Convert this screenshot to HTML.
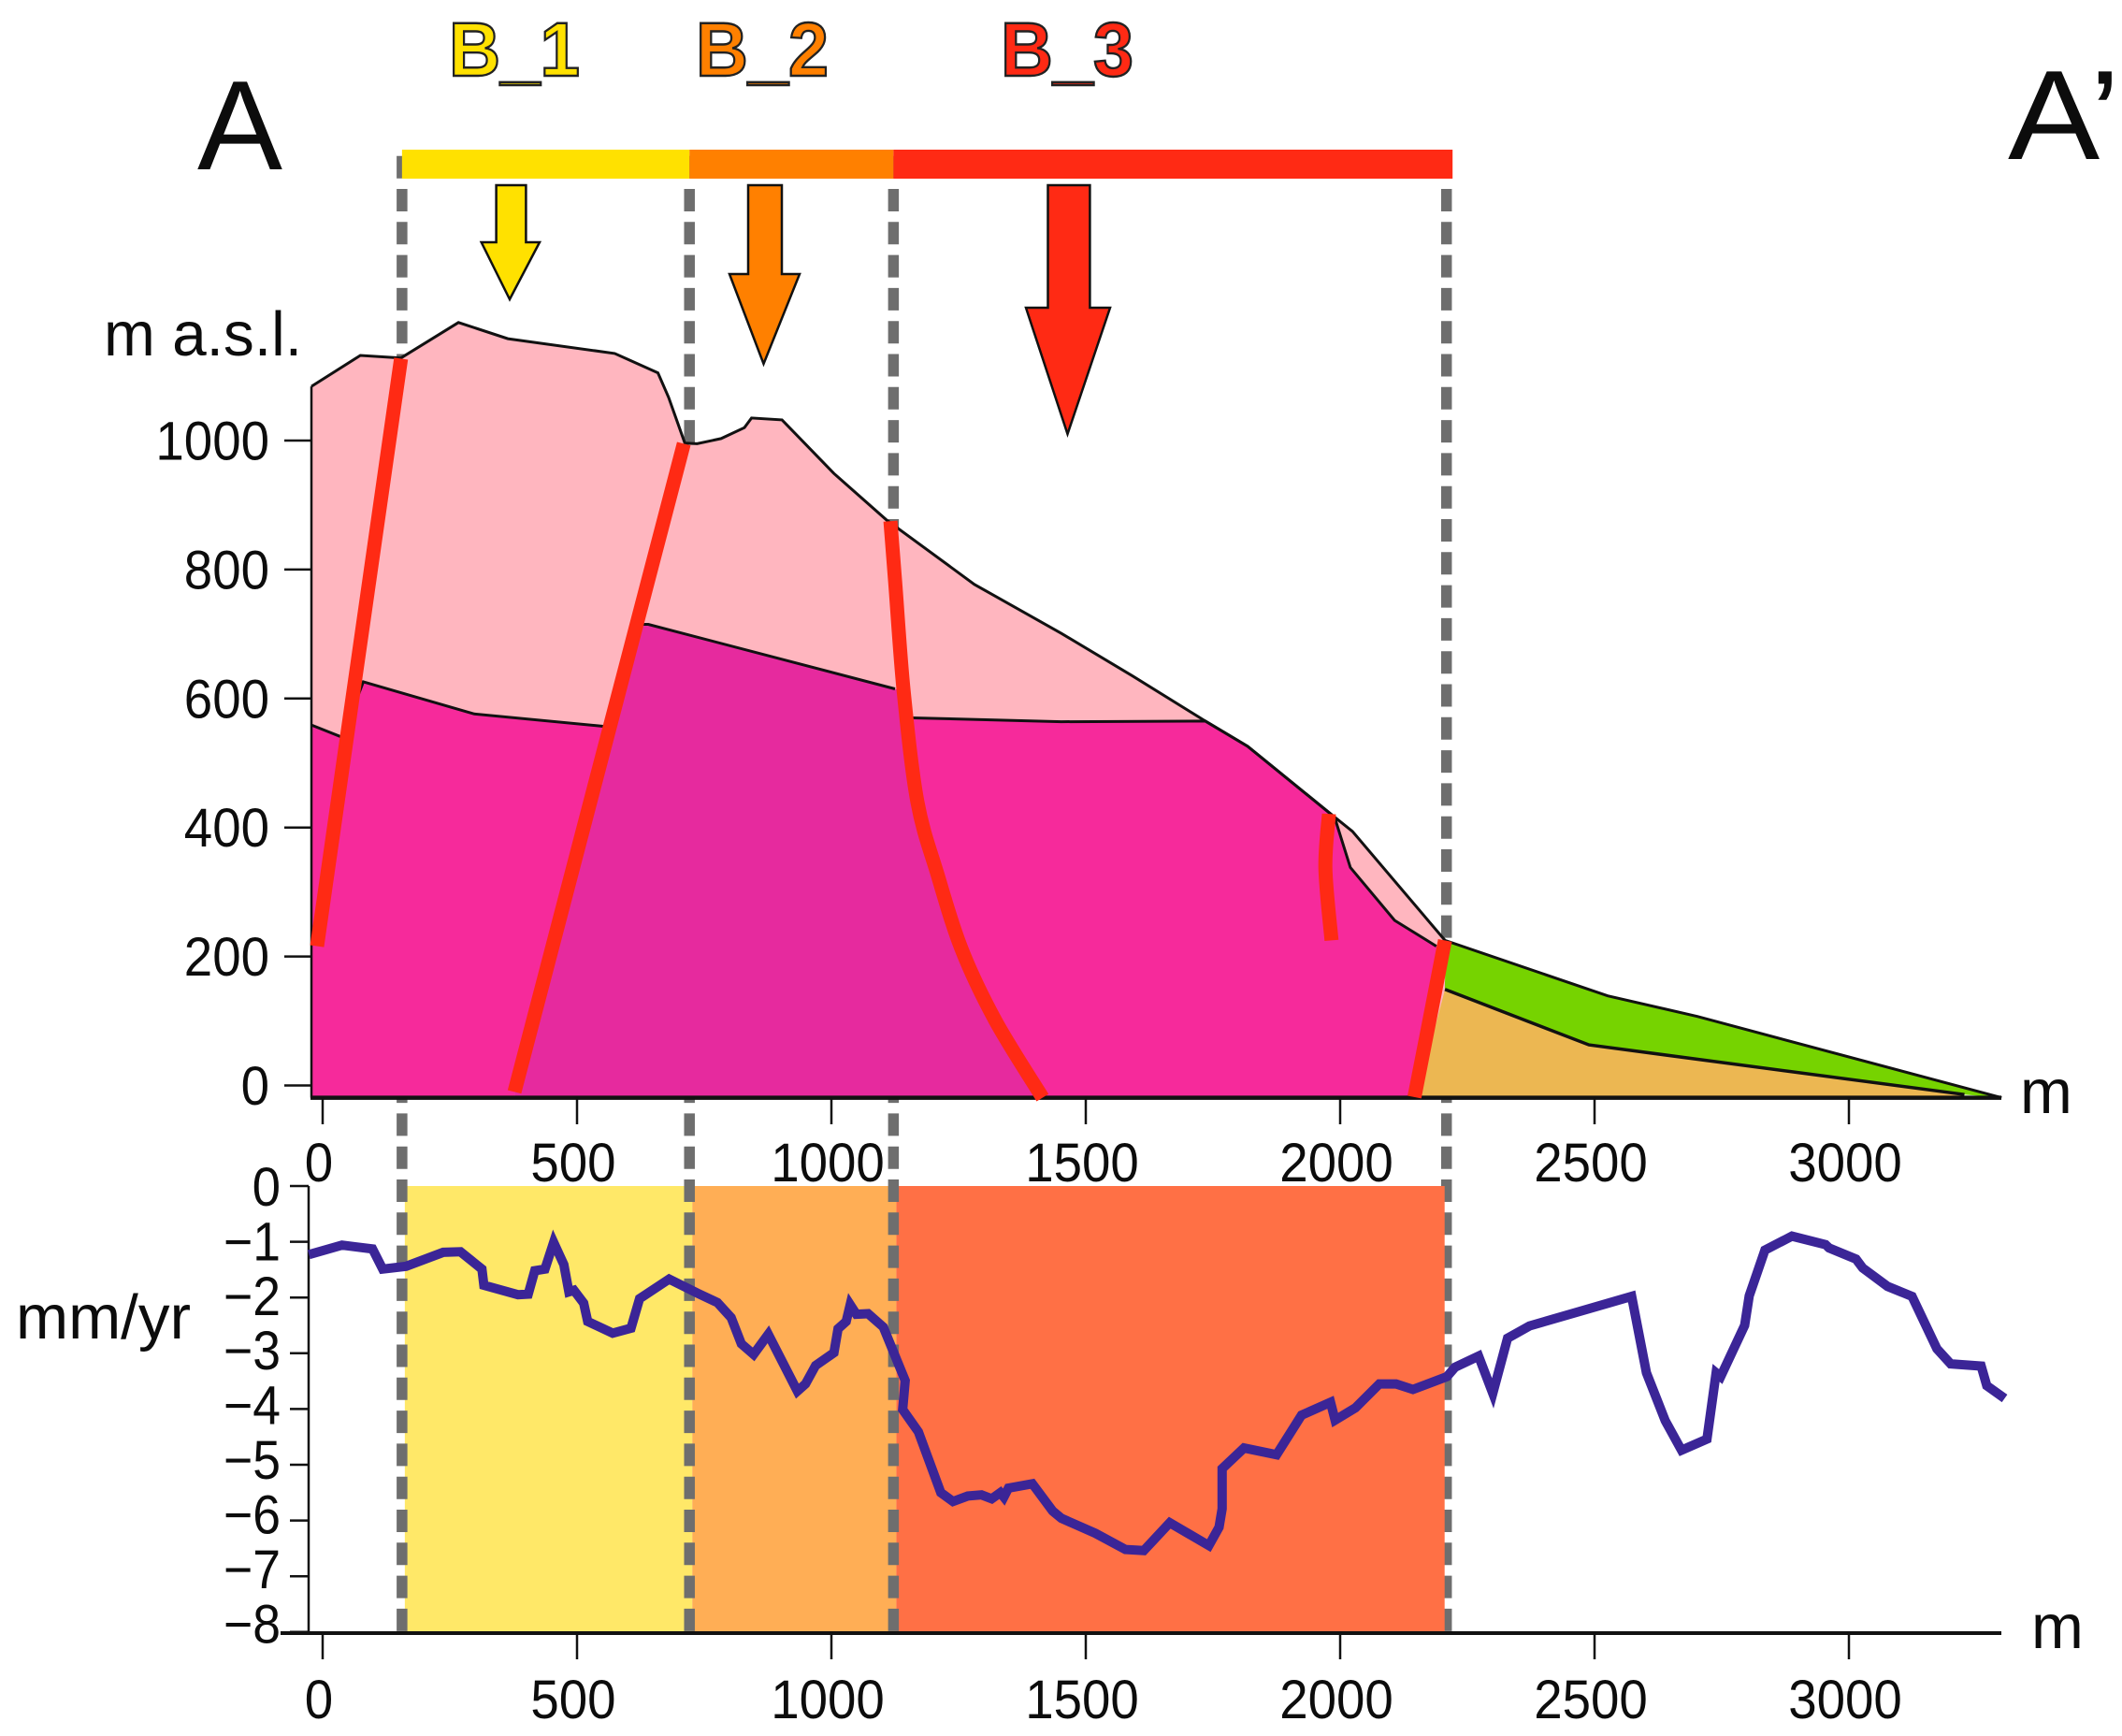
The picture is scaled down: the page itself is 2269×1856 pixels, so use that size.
<!DOCTYPE html>
<html lang="en">
<head>
<meta charset="utf-8">
<title>Cross section A–A' with vertical velocity</title>
<style>
html,body{margin:0;padding:0;background:#fff;}
svg{display:block;font-family:"Liberation Sans",Arial,sans-serif;}
text{fill:#0c0c0c;}
</style>
</head>
<body>
<svg id="chart" xmlns="http://www.w3.org/2000/svg" width="2269" height="1856" viewBox="0 0 2269 1856">
  <rect width="2269" height="1856" fill="#ffffff"/>
  <g id="lower"></g>
  <g id="upper"></g>
  <g id="bar"></g>

  <polygon points="530.6,198 562.4,198 562.4,259 577,259 545,320 514.7,259 530.6,259" fill="#ffe100" stroke="#111" stroke-width="2.5"/>
  <polygon points="800,198 836,198 836,293 855,293 816.5,389 780,293 800,293" fill="#ff8000" stroke="#111" stroke-width="2.5"/>
  <polygon points="1120.5,198 1165.4,198 1165.4,329 1187,329 1141.5,464 1097,329 1120.5,329" fill="#ff2a14" stroke="#111" stroke-width="2.5"/>

  <text x="480" y="81" font-size="82" font-weight="bold" textLength="140" lengthAdjust="spacingAndGlyphs" style="fill:#ffe100" stroke="#222" stroke-width="2.4">B_1</text>
  <text x="744" y="81" font-size="82" font-weight="bold" textLength="142" lengthAdjust="spacingAndGlyphs" style="fill:#ff8000" stroke="#222" stroke-width="2.4">B_2</text>
  <text x="1070" y="81" font-size="82" font-weight="bold" textLength="142" lengthAdjust="spacingAndGlyphs" style="fill:#ff2a14" stroke="#222" stroke-width="2.4">B_3</text>

  <text x="211" y="181" font-size="136" textLength="91" lengthAdjust="spacingAndGlyphs">A</text>
  <text x="2147" y="170" font-size="136" textLength="120" lengthAdjust="spacingAndGlyphs">A’</text>
  <text x="111" y="380" font-size="67" textLength="212" lengthAdjust="spacingAndGlyphs">m a.s.l.</text>
  <text x="17" y="1431" font-size="67" textLength="187" lengthAdjust="spacingAndGlyphs">mm/yr</text>
  <text x="2160" y="1190" font-size="67">m</text>
  <text x="2172" y="1762" font-size="67">m</text>
</svg>
<script>
// ---- chart data ----
const distanceTicks = [0, 500, 1000, 1500, 2000, 2500, 3000];
const elevationTicks = [0, 200, 400, 600, 800, 1000];
const velocityTicks = [0, -1, -2, -3, -4, -5, -6, -7, -8];
const zoneBounds = [156, 721, 1122, 2209];
const zoneNames = ['b1', 'b2', 'b3'];

const terrainDist = [-22,74,154,267,364,574,659,680,712,736,783,829,843,903,1005,1108,1281,1452,1592,1735,1818,1983,2024,2206];
const terrainElev = [1084,1132,1128,1183,1158,1135,1105,1067,996,995,1003,1020,1035,1032,949,877,777,701,635,565,526,420,394,225];

const block1Dist = [-22,38,80,298,563];
const block1Elev = [559,540,626,576,556];
const block2Dist = [617,640,1125];
const block2Elev = [715,715,615];
const block3Dist = [1149,1160,1452,1735,1818,1983,1991,2020,2107,2189];
const block3Elev = [570,570,564,565,526,420,411,338,256,216];

const greenTopDist = [2206,2526,2702,3300];
const greenTopElev = [225,139,107,-19];
const greenBaseDist = [2206,2489,3227];
const greenBaseElev = [149,63,-14];

const fault1Dist = [154,-11];
const fault1Elev = [1127,216];
const fault2Dist = [710,377];
const fault2Elev = [995,-10];
const fault3Dist = [1116,1125,1142,1169,1209,1256,1322,1415];
const fault3Elev = [875,784,612,440,326,211,101,-19];
const fault4Dist = [1978,1971,1983];
const fault4Elev = [421,337,225];
const fault5Dist = [2206,2180,2146];
const fault5Elev = [225,119,-18];

const velocityDist = [-27,38,98,118,164,237,271,313,317,384,404,417,437,454,474,484,494,513,521,570,606,623,681,736,776,803,823,847,876,933,949,969,1005,1013,1029,1037,1049,1072,1102,1145,1140,1171,1215,1239,1268,1295,1315,1332,1339,1348,1395,1435,1452,1519,1578,1614,1665,1742,1762,1768,1768,1811,1875,1924,1981,1990,2030,2077,2110,2143,2210,2226,2272,2300,2329,2372,2573,2602,2639,2671,2721,2739,2748,2795,2804,2835,2888,2954,2961,3014,3027,3076,3124,3173,3200,3260,3271,3306];
const velocityRate = [-1.23,-1.06,-1.13,-1.49,-1.44,-1.19,-1.18,-1.49,-1.78,-1.95,-1.94,-1.52,-1.49,-1.01,-1.41,-1.90,-1.87,-2.10,-2.43,-2.64,-2.55,-2.02,-1.67,-1.92,-2.09,-2.36,-2.83,-3.02,-2.66,-3.68,-3.55,-3.22,-2.99,-2.56,-2.43,-2.13,-2.30,-2.29,-2.53,-3.49,-4.01,-4.41,-5.50,-5.66,-5.56,-5.54,-5.61,-5.50,-5.58,-5.42,-5.34,-5.83,-5.96,-6.23,-6.52,-6.54,-6.04,-6.45,-6.12,-5.79,-5.07,-4.70,-4.82,-4.11,-3.88,-4.20,-3.98,-3.55,-3.55,-3.65,-3.42,-3.25,-3.05,-3.72,-2.73,-2.51,-1.98,-3.35,-4.21,-4.74,-4.54,-3.35,-3.42,-2.50,-1.97,-1.15,-0.90,-1.05,-1.11,-1.31,-1.47,-1.80,-1.98,-2.92,-3.19,-3.23,-3.58,-3.81];

// ---- axis functions ----
const BASE_ELEV = -19;
const DIGIT_WIDTH = 30.4;
const xScale = d => 345 + 0.544 * d;
const yElev = e => 1160.5 - 0.6895 * e;
const yRate = r => 1268 - 59.6 * r;

const NS = 'http://www.w3.org/2000/svg';
const upper = document.getElementById('upper');
const lower = document.getElementById('lower');
const bar = document.getElementById('bar');

function make(parent, tag, props) {
  const el = document.createElementNS(NS, tag);
  for (const k in props) el.setAttribute(k, props[k]);
  parent.appendChild(el);
  return el;
}
function pairs(ds, es, yFn) {
  return ds.map((d, i) => xScale(d).toFixed(1) + ',' + yFn(es[i]).toFixed(1));
}
const rev = a => a.slice().reverse();
function labelProps(x, y, anchor, width) {
  return {x: x, y: y, 'text-anchor': anchor, 'font-size': 58, textLength: width, lengthAdjust: 'spacingAndGlyphs'};
}

// ---- lower panel: dashed line, zones, series ----
const DASH_TOP = 166.7, LOWER_BOTTOM = 1745;
function drawDash(d) {
  const el = make(lower, 'line', {x1: xScale(d), x2: xScale(d), y1: DASH_TOP, y2: LOWER_BOTTOM,
    stroke: '#6e6e6e', 'stroke-width': 11.5, 'stroke-dasharray': '24 11.3'});
  
  
}
drawDash(zoneBounds[3]);

const fillColors = ['#ffe868', '#ffae55', '#ff7045'];
zoneNames.forEach((z, i) => {
  const x0 = xScale(zoneBounds[i]) + 3;
  const x1 = xScale(zoneBounds[i + 1]) + (i === 2 ? -2 : 3);
  const el = make(lower, 'rect', {x: x0, y: 1268, width: x1 - x0, height: LOWER_BOTTOM - 1268, fill: fillColors[i]});
  
  
});
zoneBounds.slice(0, 3).forEach(drawDash);

// lower axes
const lowerYAxis = make(lower, 'line', {x1: 330, x2: 330, y1: yRate(0), y2: LOWER_BOTTOM, stroke: '#111', 'stroke-width': 2.5});


const lowerXAxis = make(lower, 'line', {x1: 300, x2: 2140, y1: LOWER_BOTTOM + 1, y2: LOWER_BOTTOM + 1, stroke: '#111', 'stroke-width': 4});



velocityTicks.forEach(v => {
  const t = make(lower, 'line', {x1: 310, x2: 330, y1: yRate(v), y2: yRate(v), stroke: '#111', 'stroke-width': 2.5});
  
  
  const l = make(lower, 'text', labelProps(300, yRate(v * 0.98) + 21, 'end', v === 0 ? DIGIT_WIDTH : 61));
  l.textContent = v === 0 ? '0' : '\u2212' + Math.abs(v);
  
  
});
distanceTicks.forEach(d => {
  const t = make(lower, 'line', {x1: xScale(d), x2: xScale(d), y1: LOWER_BOTTOM, y2: 1774, stroke: '#111', 'stroke-width': 2.5});
  
  
  const l = make(lower, 'text', labelProps(xScale(d) - 4, 1837, 'middle', String(d).length * DIGIT_WIDTH));
  l.textContent = d;
  
  
});

const series = make(lower, 'polyline', {points: pairs(velocityDist, velocityRate, yRate).join(' '), fill: 'none',
  stroke: '#3b2597', 'stroke-width': 10, 'stroke-linejoin': 'miter', 'stroke-miterlimit': 6});



// ---- upper panel: geology ----
const e = (ds, es) => pairs(ds, es, yElev);
const baseAt = d => xScale(d).toFixed(1) + ',' + yElev(BASE_ELEV).toFixed(1);
const at = (d, v) => xScale(d).toFixed(1) + ',' + yElev(v).toFixed(1);
const lastF2 = fault2Dist.length - 1;

const pink = make(upper, 'polygon', {points: e(terrainDist, terrainElev).concat([baseAt(2206), baseAt(-22)]).join(' '), fill: '#ffb6bf'});



const m1 = make(upper, 'polygon', {points: e(block1Dist, block1Elev).concat([at(fault2Dist[lastF2], fault2Elev[lastF2]), baseAt(fault2Dist[lastF2]), baseAt(-22)]).join(' '), fill: '#f62a9b'});



const m2 = make(upper, 'polygon', {points: e(block2Dist, block2Elev).concat(e(fault3Dist.slice(2), fault3Elev.slice(2)), [baseAt(fault2Dist[lastF2]), at(fault2Dist[lastF2], fault2Elev[lastF2])]).join(' '), fill: '#e62a9e'});



const m3 = make(upper, 'polygon', {points: e(block3Dist, block3Elev).concat(e(fault5Dist, fault5Elev), [baseAt(2146), baseAt(1415)], e(rev(fault3Dist.slice(3)), rev(fault3Elev.slice(3)))).join(' '), fill: '#f62a9b'});



const tan = make(upper, 'polygon', {points: e(greenBaseDist, greenBaseElev).concat([baseAt(3227), baseAt(2150)]).join(' '), fill: '#ecb752'});



const green = make(upper, 'polygon', {points: e(greenTopDist, greenTopElev).concat(e(rev(greenBaseDist), rev(greenBaseElev))).join(' '), fill: '#76d300'});



function outline(ds, es, name, w) {
  const el = make(upper, 'polyline', {points: e(ds, es).join(' '), fill: 'none', stroke: '#111', 'stroke-width': w});
  
  
}
outline(terrainDist.concat(greenTopDist), terrainElev.concat(greenTopElev), 'terrain-profile', 3);
outline(block1Dist, block1Elev, 'block-left-boundary', 3);
outline(block2Dist, block2Elev, 'block-middle-boundary', 3);
outline(block3Dist, block3Elev, 'block-right-boundary', 3);
outline(greenBaseDist, greenBaseElev, 'green-wedge-base', 3.5);

// upper axes
const upperYAxis = make(upper, 'line', {x1: 333, x2: 333, y1: yElev(1084), y2: yElev(BASE_ELEV), stroke: '#111', 'stroke-width': 2.5});


const upperXAxis = make(upper, 'line', {x1: 332, x2: 2140, y1: yElev(BASE_ELEV), y2: yElev(BASE_ELEV), stroke: '#111', 'stroke-width': 4.5});



elevationTicks.forEach(v => {
  const t = make(upper, 'line', {x1: 304, x2: 333, y1: yElev(v), y2: yElev(v), stroke: '#111', 'stroke-width': 2.5});
  
  
  const l = make(upper, 'text', labelProps(288, yElev(v) + 20.5, 'end', String(v).length * DIGIT_WIDTH));
  l.textContent = v;
  
  
});
distanceTicks.forEach(d => {
  const t = make(upper, 'line', {x1: xScale(d), x2: xScale(d), y1: yElev(BASE_ELEV), y2: 1202, stroke: '#111', 'stroke-width': 2.5});
  
  
  const l = make(upper, 'text', labelProps(xScale(d) - 4, 1263, 'middle', String(d).length * DIGIT_WIDTH));
  l.textContent = d;
  
  
});

// Smooth path through fault vertices so curved faults are not faceted.
function smoothPath(ds, es) {
  const p = ds.map((d, i) => [xScale(d), yElev(es[i])]);
  let path = 'M' + p[0][0].toFixed(1) + ' ' + p[0][1].toFixed(1);
  for (let i = 0; i < p.length - 1; i++) {
    const a = p[Math.max(i - 1, 0)], b = p[i], c = p[i + 1], f = p[Math.min(i + 2, p.length - 1)];
    path += ' C' + (b[0] + (c[0] - a[0]) / 6).toFixed(1) + ' ' + (b[1] + (c[1] - a[1]) / 6).toFixed(1) + ' ' +
      (c[0] - (f[0] - b[0]) / 6).toFixed(1) + ' ' + (c[1] - (f[1] - b[1]) / 6).toFixed(1) + ' ' +
      c[0].toFixed(1) + ' ' + c[1].toFixed(1);
  }
  return path;
}
function fault(ds, es, name) {
  const el = make(upper, 'path', {d: smoothPath(ds, es), fill: 'none', stroke: '#ff2a14', 'stroke-width': 15});
  
  
}
fault(fault1Dist, fault1Elev, 'fault-1');
fault(fault2Dist, fault2Elev, 'fault-2');
fault(fault3Dist, fault3Elev, 'fault-3');
fault(fault4Dist, fault4Elev, 'fault-4');
fault(fault5Dist, fault5Elev, 'fault-5');

// ---- zone bar ----
const barColors = ['#ffe100', '#ff8000', '#ff2a14'];
zoneNames.forEach((z, i) => {
  const x0 = xScale(zoneBounds[i]);
  const x1 = xScale(zoneBounds[i + 1]) + (i === 2 ? 6.5 : 0);
  const el = make(bar, 'rect', {x: x0, y: 160, width: x1 - x0, height: 31, fill: barColors[i]});
  
  
});
</script>
</body>
</html>
